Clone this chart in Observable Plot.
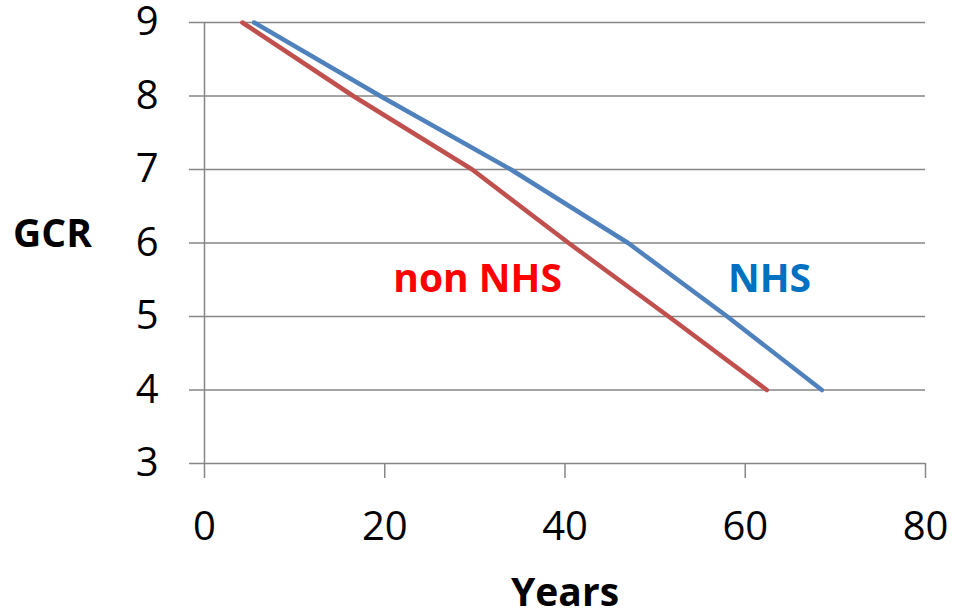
<!DOCTYPE html>
<html>
<head>
<meta charset="utf-8">
<script src="https://cdn.jsdelivr.net/npm/d3@7"></script>
<script src="https://cdn.jsdelivr.net/npm/@observablehq/plot@0.6"></script>
<style>
  html, body { margin: 0; padding: 0; background: #fff; }
</style>
</head>
<body>
<div id="chart"></div>
<script>
const gcr = [9, 8, 7, 6, 5, 4];
const yearsNHS = [5.5, 19.5, 34.0, 47.0, 58.0, 68.5];
const yearsNonNHS = [4.2, 16.5, 29.7, 40.4, 51.5, 62.4];
const xTicks = [0, 20, 40, 60, 80];
const yTicks = [3, 4, 5, 6, 7, 8, 9];
const seriesLabels = ["NHS", "non NHS"];
const labelX = [62.7, 30.3];
const labelY = [5.5, 5.5];

const nhs = gcr.map((g, i) => ({x: yearsNHS[i], y: g}));
const nonNhs = gcr.map((g, i) => ({x: yearsNonNHS[i], y: g}));
const labels = seriesLabels.map((s, i) => ({s, x: labelX[i], y: labelY[i]}));

const grid = "#868686";

const chart = Plot.plot({
  width: 955,
  height: 613,
  marginLeft: 204,
  marginRight: 30,
  marginTop: 22,
  marginBottom: 150,
  style: {fontFamily: "'Open Sans', sans-serif", fontSize: "40px", color: "#000", background: "#fff", overflow: "visible"},
  x: {domain: [0, 80], ticks: xTicks},
  y: {domain: [3, 9], ticks: yTicks},
  marks: [
    Plot.gridY(yTicks, {stroke: grid, strokeOpacity: 1, strokeWidth: 1.5}),
    Plot.axisY(yTicks, {tickSize: 15, tickPadding: 31, tickFormat: "d", stroke: grid, strokeWidth: 1.5, strokeOpacity: 1, fill: "#000", label: null, fontSize: 40}),
    Plot.axisX(xTicks, {tickSize: 15, tickPadding: 33, tickFormat: "d", stroke: grid, strokeWidth: 1.5, strokeOpacity: 1, fill: "#000", label: null, fontSize: 40}),
    Plot.ruleX([0], {y1: 3, y2: 9, stroke: grid, strokeWidth: 1.5}),
    Plot.line(nonNhs, {x: "x", y: "y", stroke: "#C0504D", strokeWidth: 4.5}),
    Plot.line(nhs, {x: "x", y: "y", stroke: "#4F81BD", strokeWidth: 4.5}),
    Plot.text(labels, {x: "x", y: "y", text: "s", fill: (d) => d.s === "NHS" ? "#0070C0" : "#FF0000", fontWeight: "bold", fontSize: 39}),
    Plot.text(["GCR"], {frameAnchor: "left", textAnchor: "middle", lineAnchor: "middle", dx: -152, dy: -8, fontWeight: "bold", fontSize: 39, fill: "#000"}),
    Plot.text(["Years"], {frameAnchor: "bottom", textAnchor: "middle", lineAnchor: "middle", dy: 130, fontWeight: "bold", fontSize: 39, fill: "#000"})
  ]
});
document.getElementById("chart").appendChild(chart);
</script>
</body>
</html>
